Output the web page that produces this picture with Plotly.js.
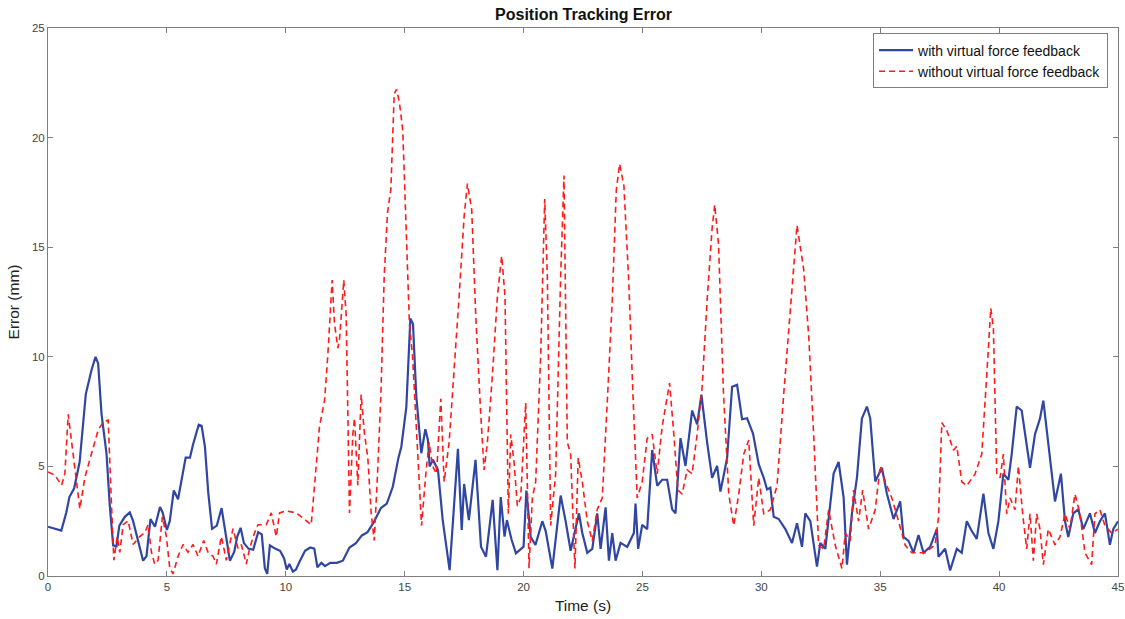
<!DOCTYPE html>
<html>
<head>
<meta charset="utf-8">
<script src="https://cdn.plot.ly/plotly-3.0.1.min.js"></script>
<style>html,body{margin:0;padding:0;background:#fff;}#chart{width:1125px;height:619px;}</style>
</head>
<body>
<div id="chart"></div>
<script>
const seriesNames = ["with virtual force feedback", "without virtual force feedback"];
const xTickVals = [0,5,10,15,20,25,30,35,40,45];
const yTickVals = [0,5,10,15,20,25];

const tWith = [0,0.56,0.77,0.9,1.1,1.33,1.59,1.83,2.0,2.11,2.25,2.46,2.6,2.74,2.88,3.0,3.23,3.44,3.58,3.79,4.0,4.14,4.31,4.5,4.71,4.82,5.0,5.12,5.29,5.47,5.62,5.79,5.97,6.1,6.34,6.46,6.6,6.74,6.9,7.1,7.3,7.44,7.65,7.83,7.96,8.1,8.24,8.43,8.63,8.84,8.99,9.12,9.22,9.33,9.55,9.76,9.93,10.04,10.15,10.3,10.43,10.6,10.81,11.03,11.2,11.33,11.5,11.65,11.87,12.15,12.4,12.68,12.95,13.2,13.44,13.7,14.0,14.25,14.5,14.74,14.86,15.07,15.24,15.35,15.49,15.7,15.87,15.98,16.05,16.19,16.4,16.6,16.89,17.24,17.4,17.5,17.7,17.98,18.21,18.42,18.7,18.9,19.04,19.2,19.3,19.5,19.68,20.0,20.12,20.3,20.5,20.79,20.93,21.21,21.56,21.77,21.98,22.33,22.47,22.68,22.89,23.1,23.24,23.45,23.59,23.73,23.87,24.08,24.36,24.64,24.71,24.82,24.99,25.2,25.41,25.62,25.83,26.04,26.25,26.39,26.6,26.81,27.09,27.3,27.48,27.72,27.93,28.14,28.28,28.56,28.77,28.98,29.19,29.4,29.65,29.89,30.1,30.24,30.38,30.52,30.73,31.01,31.29,31.5,31.71,31.85,32.06,32.34,32.48,32.69,33.04,33.25,33.46,33.6,33.81,34.02,34.23,34.44,34.58,34.79,35.07,35.28,35.56,35.84,35.98,36.19,36.4,36.61,36.82,37.1,37.38,37.45,37.73,37.94,38.22,38.43,38.64,38.85,39.06,39.34,39.55,39.76,39.97,40.18,40.39,40.53,40.74,40.95,41.09,41.3,41.51,41.72,41.86,42.07,42.35,42.6,42.77,42.91,43.12,43.33,43.54,43.82,44.03,44.24,44.45,44.66,44.8,45];
const errWith = [2.25,2.07,2.9,3.6,4.0,5.2,8.3,9.4,10.0,9.7,7.4,5.6,3.2,1.4,1.35,2.3,2.7,2.9,2.5,1.6,0.7,0.9,2.6,2.25,3.15,2.9,2.1,2.5,3.9,3.5,4.4,5.4,5.4,6.0,6.9,6.85,5.9,3.8,2.15,2.3,3.1,2.15,0.7,1.1,1.8,2.2,1.5,1.25,1.2,2.0,1.9,0.35,0.1,1.4,1.25,1.15,0.8,0.3,0.55,0.2,0.3,0.7,1.15,1.3,1.25,0.4,0.6,0.45,0.6,0.6,0.7,1.3,1.5,1.85,2.0,2.45,3.1,3.3,4.07,5.4,5.9,7.7,11.75,11.5,8.2,5.6,6.7,6.2,5.0,5.3,4.84,2.55,0.27,5.8,2.1,4.2,2.55,5.3,1.34,0.88,3.47,0.27,3.6,1.8,2.55,1.64,1.03,1.34,3.9,1.78,1.42,2.5,2.05,0.34,3.67,2.5,1.15,2.86,1.96,1.06,1.24,2.86,1.24,3.13,0.7,1.96,0.7,1.51,1.33,1.96,3.31,1.24,2.33,2.14,5.75,4.12,4.39,4.39,3.04,2.86,6.29,5.02,7.55,6.92,8.27,6.1,4.48,5.02,3.85,5.38,8.63,8.72,7.15,7.2,6.5,5.1,4.48,3.95,4.03,2.7,2.6,2.14,1.51,2.41,1.33,2.86,2.5,0.43,1.51,1.24,4.67,5.2,3.59,0.52,2.86,4.48,7.19,7.73,7.19,4.31,4.94,3.76,2.6,3.4,1.78,1.6,1.06,1.87,1.06,1.33,2.14,0.88,1.24,0.25,1.24,1.06,2.5,2.05,1.69,3.76,1.96,1.24,2.5,4.67,4.39,5.56,7.73,7.55,6.47,4.94,6.47,7.19,8.0,6.1,3.4,4.67,2.5,1.78,2.86,3.04,2.14,2.86,1.96,2.5,2.86,1.42,2.14,2.5];

const tWithout = [0,0.29,0.57,0.71,0.85,0.95,1.13,1.34,1.55,1.83,2.11,2.32,2.53,2.67,2.77,2.91,3.02,3.16,3.37,3.58,3.72,3.86,4.07,4.21,4.35,4.49,4.63,4.81,4.98,5.12,5.26,5.47,5.68,5.89,6.1,6.31,6.55,6.73,6.94,7.08,7.29,7.5,7.78,7.99,8.13,8.34,8.48,8.69,8.83,9.18,9.39,9.6,9.74,10.02,10.44,11.07,11.42,11.63,11.77,11.95,12.05,12.19,12.26,12.44,12.54,12.68,12.82,12.89,13.03,13.17,13.31,13.45,13.59,13.72,13.86,14.0,14.14,14.28,14.42,14.56,14.66,14.78,14.92,15.06,15.2,15.33,15.47,15.61,15.71,15.89,16.03,16.17,16.34,16.52,16.66,16.87,17.08,17.29,17.5,17.64,17.82,17.99,18.2,18.34,18.48,18.69,18.9,19.08,19.22,19.36,19.46,19.6,19.74,19.88,20.09,20.23,20.37,20.51,20.72,20.89,21.0,21.14,21.35,21.56,21.7,21.84,21.98,22.16,22.3,22.47,22.68,22.89,23.1,23.31,23.52,23.73,23.9,24.04,24.22,24.43,24.6,24.78,24.99,25.2,25.41,25.62,25.83,26.0,26.14,26.32,26.49,26.67,26.88,27.09,27.3,27.51,27.72,27.93,28.04,28.2,28.41,28.63,28.84,29.05,29.26,29.47,29.68,29.89,30.1,30.38,30.66,30.94,31.22,31.5,31.78,31.99,32.2,32.41,32.62,32.83,33.11,33.39,33.53,33.74,33.88,34.09,34.26,34.51,34.79,35.0,35.21,35.49,35.77,36.05,36.33,36.89,37.31,37.45,37.59,37.8,38.08,38.22,38.43,38.64,38.99,39.27,39.48,39.65,39.76,39.9,40.04,40.18,40.32,40.46,40.67,40.81,40.99,41.16,41.3,41.44,41.58,41.72,41.86,42.07,42.35,42.56,42.77,42.98,43.19,43.4,43.61,43.89,44.03,44.24,44.45,44.73,45];
const errWithout = [4.75,4.6,4.14,4.68,7.38,6.48,4.68,3.06,4.5,5.58,6.66,7.02,7.11,3.24,0.72,1.8,1.08,2.34,2.52,1.44,1.62,1.8,1.98,2.34,1.08,0.54,0.72,2.7,1.8,0.36,0.1,0.9,1.44,1.08,1.44,0.9,1.62,1.08,0.9,0.54,1.8,0.72,2.16,1.26,1.44,0.54,1.26,1.98,2.34,2.34,2.88,1.8,2.88,2.97,2.88,2.34,6.84,8.0,10.1,13.5,11.5,10.4,10.8,13.5,11.9,2.88,6.48,7.2,4.14,8.28,6.48,5.4,2.88,1.62,4.68,8.28,13.7,16.6,17.65,22.0,22.2,21.6,20.33,16.2,11.5,10.06,7.36,4.66,2.3,4.66,6.1,5.02,4.66,8.08,4.3,6.1,9.34,12.76,16.4,17.9,16.7,11.86,7.36,4.84,6.1,9.16,12.76,14.6,12.76,2.84,6.46,5.2,3.2,3.56,7.9,0.36,3.56,4.3,10.06,17.2,13.67,2.3,4.66,13.67,18.27,6.1,5.56,0.34,5.38,4.3,2.5,1.6,3.04,3.56,7.9,12.58,17.6,18.8,17.8,13.3,8.28,3.56,4.3,6.28,6.46,4.66,6.82,7.9,8.8,6.46,3.92,3.74,4.84,4.66,6.46,8.62,12.58,15.86,16.94,15.14,8.28,3.74,2.3,3.74,5.56,6.2,2.3,4.48,2.84,3.02,4.12,8.28,12.2,16.0,14.0,11.0,6.46,1.4,1.24,3.02,1.4,0.34,1.96,1.6,3.92,2.5,3.92,2.14,3.02,5.02,4.3,3.56,2.5,1.4,1.06,1.06,1.42,2.68,7.0,6.64,5.74,5.92,4.3,4.12,4.66,5.56,9.16,12.22,11.3,4.66,4.48,5.56,2.84,3.56,3.02,5.02,2.84,1.24,2.84,0.7,2.84,2.14,0.52,2.14,1.42,1.78,2.84,2.14,3.74,2.84,1.06,0.52,2.84,3.02,2.3,1.96,2.14];

const FONT = "Arial, 'Liberation Sans', sans-serif";

const traces = [
  {x: tWith, y: errWith, name: seriesNames[0], type: 'scatter', mode: 'lines',
   line: {color: '#3046a3', width: 2.2}},
  {x: tWithout, y: errWithout, name: seriesNames[1], type: 'scatter', mode: 'lines',
   line: {color: '#ff1a1a', width: 1.6, dash: '6px,4px'}}
];

const axisCommon = {
  showgrid: false, zeroline: false, showline: true, linecolor: '#7f7f7f', linewidth: 1,
  mirror: 'ticks', ticks: 'inside', ticklen: 5, tickcolor: '#7f7f7f',
  ticklabeloverflow: 'allow',
  tickfont: {family: FONT, size: 11.5, color: '#444444'}
};

const layout = {
  width: 1125, height: 619,
  margin: {l: 48, r: 7, t: 28, b: 43},
  paper_bgcolor: '#ffffff', plot_bgcolor: '#ffffff',
  font: {family: FONT, color: '#222222'},
  title: {text: '<b>Position Tracking Error</b>', font: {family: FONT, size: 16, color: '#111111'},
          x: 0.5187, xanchor: 'center', y: 0.976, yanchor: 'middle', yref: 'container'},
  xaxis: Object.assign({}, axisCommon, {range: [0, 45], tickvals: xTickVals,
          title: {text: 'Time (s)', font: {family: FONT, size: 15.5, color: '#222222'}, standoff: 8}}),
  yaxis: Object.assign({}, axisCommon, {range: [0, 25], tickvals: yTickVals,
          title: {text: 'Error (mm)', font: {family: FONT, size: 15.5, color: '#222222'}, standoff: 8}}),
  legend: {x: 0.9907, xanchor: 'right', y: 0.99, yanchor: 'top', bgcolor: '#ffffff',
           bordercolor: '#7f7f7f', borderwidth: 1, font: {family: FONT, size: 14, color: '#111111'},
           tracegroupgap: 0, itemwidth: 34},
  showlegend: true
};

Plotly.newPlot('chart', traces, layout, {displayModeBar: false, staticPlot: true});
</script>
</body>
</html>
